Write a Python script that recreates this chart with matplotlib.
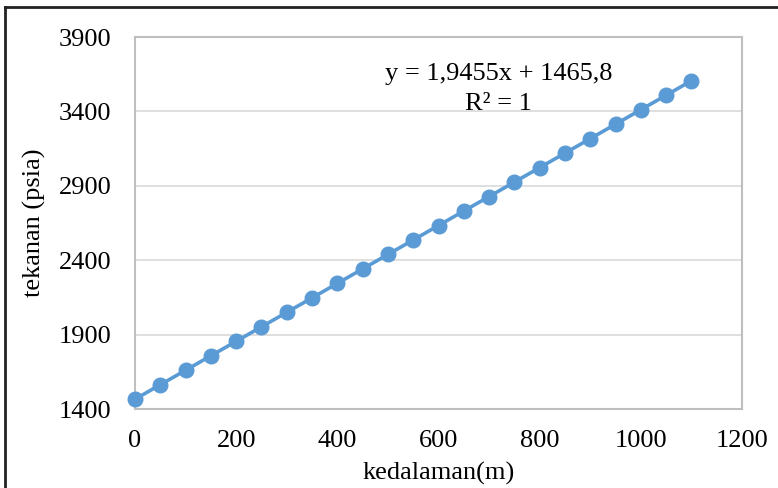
import matplotlib.pyplot as plt
from matplotlib.lines import Line2D

# depth (m) and pressure (psia)
kedalaman = [0, 50, 100, 150, 200, 250, 300, 350, 400, 450, 500, 550,
             600, 650, 700, 750, 800, 850, 900, 950, 1000, 1050, 1100]
tekanan = [1465.8, 1563.1, 1660.4, 1757.6, 1854.9, 1952.2, 2049.5, 2146.7,
           2244.0, 2341.3, 2438.6, 2535.8, 2633.1, 2730.4, 2827.7, 2924.9,
           3022.2, 3119.5, 3216.8, 3314.0, 3411.3, 3508.6, 3605.9]
x_ticks = [0, 200, 400, 600, 800, 1000, 1200]
y_ticks = [1400, 1900, 2400, 2900, 3400, 3900]
persamaan = "y = 1,9455x + 1465,8\nR² = 1"

plt.rcParams['font.family'] = ['Liberation Serif', 'DejaVu Serif']

fig = plt.figure(figsize=(7.78, 4.88), dpi=100)
ax = fig.add_axes([135/778, 1 - 409/488, (742 - 135)/778, (409 - 37)/488])

ax.plot(kedalaman, tekanan, color='#5b9bd5', linewidth=2.6, marker='o',
        markersize=10.5, zorder=3, clip_on=False)

ax.set_xlim(0, 1200)
ax.set_ylim(1400, 3900)
ax.set_xticks(x_ticks)
ax.set_yticks(y_ticks)
ax.tick_params(length=0, labelsize=19, colors='black')
ax.tick_params(axis='x', pad=15)
ax.tick_params(axis='y', pad=17)
ax.grid(True, axis='y', color='#d9d9d9', linewidth=1.2)
for s in ax.spines.values():
    s.set_color('#bfbfbf')
    s.set_linewidth(1.5)

ax.set_xlabel('kedalaman(m)', fontsize=19, labelpad=7)
ax.set_ylabel('tekanan (psia)', fontsize=19, labelpad=9)

ax.text(0.599, 0.860, persamaan, transform=ax.transAxes, ha='center',
        va='center', fontsize=19, linespacing=1.5)

# outer frame (top and left edges visible)
fig.add_artist(Line2D([4.5/778, 1], [1 - 7/488, 1 - 7/488], color='#222222', linewidth=2))
fig.add_artist(Line2D([4.5/778, 4.5/778], [0, 1 - 7/488], color='#222222', linewidth=2))

fig.savefig('out.png', dpi=100)
